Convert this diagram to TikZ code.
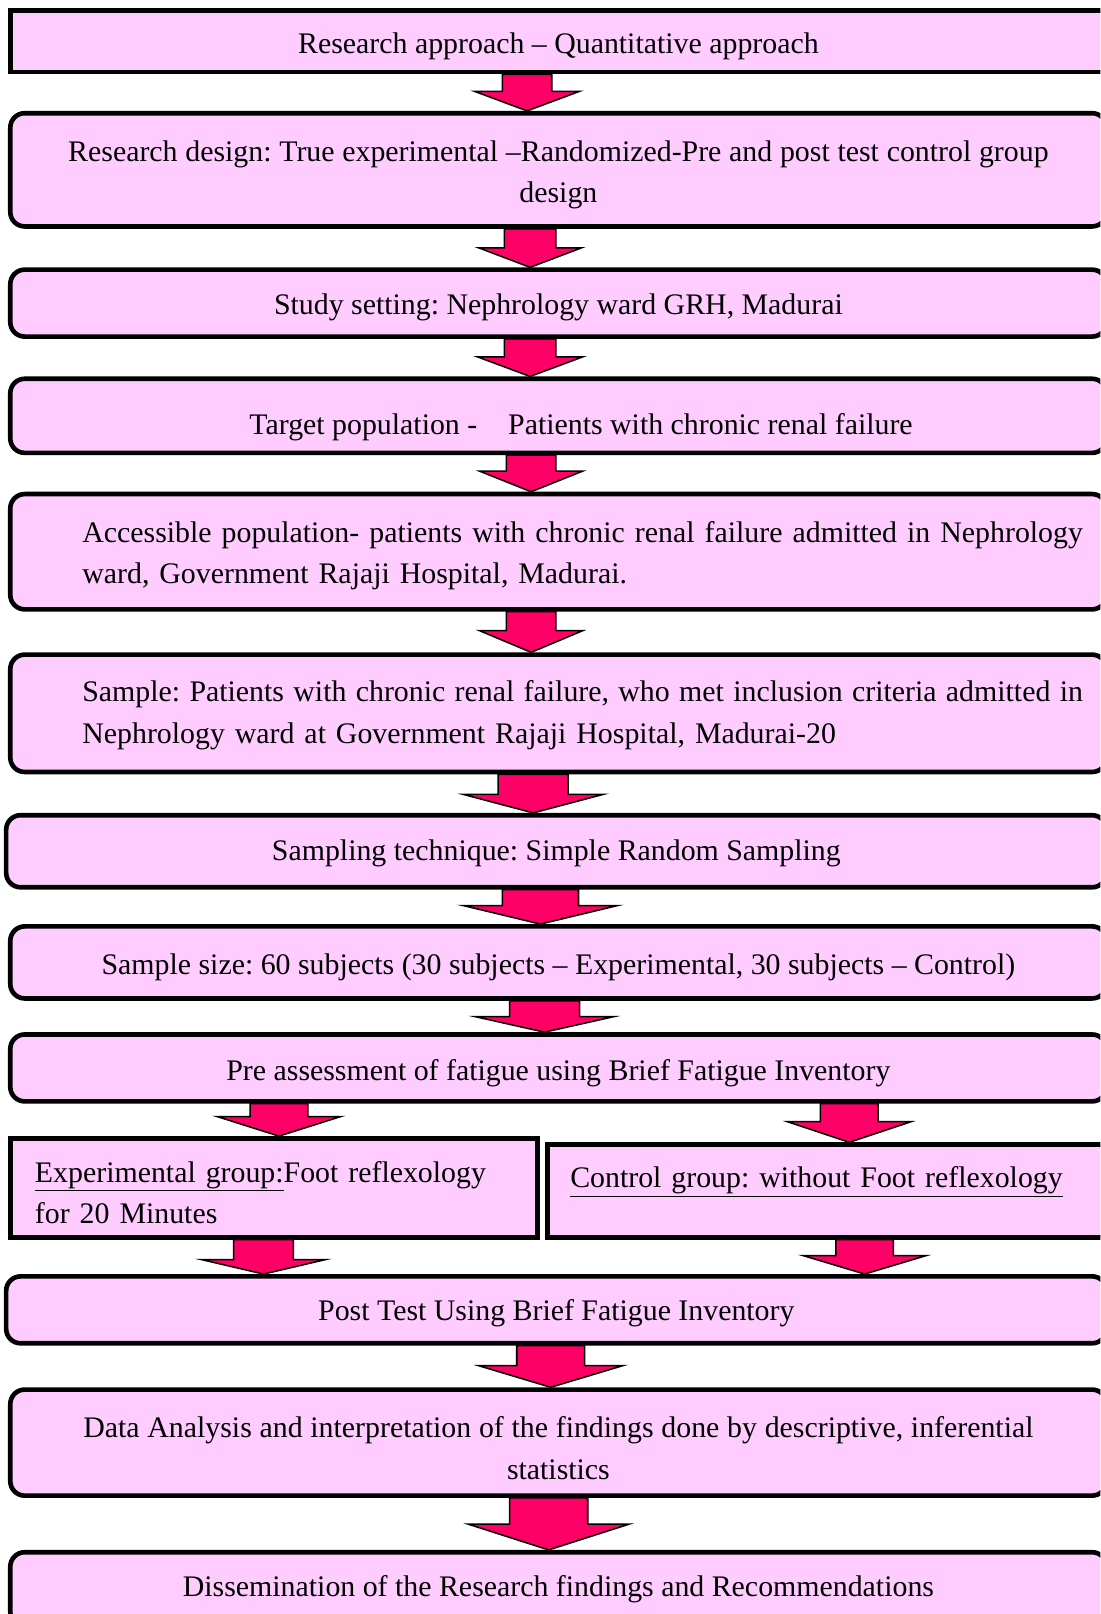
\documentclass[tikz,border=0pt]{standalone}
\usepackage{fontspec}
\setmainfont{Liberation Serif}
\usetikzlibrary{calc,backgrounds}
\definecolor{boxpink}{HTML}{FFCCFF}
\definecolor{arrowred}{HTML}{FF0066}
\frenchspacing
\tikzset{
  flowbox/.style={draw=black, line width=4.5pt, fill=boxpink, rounded corners=14pt,
    inner sep=0pt, font=\fontsize{29}{40}\selectfont\frenchspacing},
  flatbox/.style={flowbox, sharp corners},
  blockarr/.style={draw=black, fill=arrowred, line width=1.5pt, line join=miter}
}
% #1 from node, #2 to node, #3 x centre, #4 shaft half width, #5 head half width, #6 head length
\newcommand\blockarrow[6]{%
  \path[blockarr] let \p1=(#1.south), \p2=(#2.north) in
    ({(#3-#4)*1pt},\y1) -- ({(#3+#4)*1pt},\y1) -- ({(#3+#4)*1pt},{\y2+#6pt})
    -- ({(#3+#5)*1pt},{\y2+#6pt}) -- ({#3*1pt},\y2) -- ({(#3-#5)*1pt},{\y2+#6pt})
    -- ({(#3-#4)*1pt},{\y2+#6pt}) -- cycle;
}
\newcommand\fullline[1]{\hspace*{47pt}\makebox[972pt][s]{\spaceskip=5.5pt plus 4pt minus 2pt #1}}
\begin{document}
\begin{tikzpicture}[x=1pt,y=1pt]
\useasboundingbox (0,0) rectangle (1069,1568);
\clip (0,0) rectangle (1069,1568);
% boxes (y = 1568 - display y)
\node[flatbox, minimum width=1065pt, minimum height=60pt, text height=30pt, text depth=6pt]
  (b1) at (542.5,1528) {Research approach – Quantitative approach};
\node[flowbox, minimum width=1065pt, minimum height=110pt, text width=1040pt, align=center, text height=30pt, text depth=46pt]
  (b2) at (542.5,1403) {\spaceskip=6pt plus 2pt minus 1pt Research design: True experimental –Randomized-Pre and post test control group\\ design};
\node[flowbox, minimum width=1065pt, minimum height=65pt, text height=29pt, text depth=6pt]
  (b3) at (542.5,1273.5) {Study setting: Nephrology ward GRH, Madurai};
\node[flowbox, minimum width=1065pt, minimum height=72pt, text height=42pt, text depth=6pt]
  (b4) at (542.5,1164) {\hspace*{44pt}Target population -\hspace{30pt}Patients with chronic renal failure};
\node[flowbox, minimum width=1065pt, minimum height=112pt, text width=1019pt, align=left, text height=28pt, text depth=46pt]
  (b5) at (542.5,1032) {\fullline{Accessible population- patients with chronic renal failure admitted in Nephrology}\\
  \hspace*{47pt}ward, Government Rajaji Hospital, Madurai.};
\node[flowbox, minimum width=1065pt, minimum height=114pt, text width=1019pt, align=left, text height=24pt, text depth=46pt]
  (b6) at (542.5,875) {\fullline{Sample: Patients with chronic renal failure, who met inclusion criteria admitted in}\\
  \hspace*{47pt}Nephrology ward at Government Rajaji Hospital, Madurai-20};
\node[flowbox, minimum width=1069pt, minimum height=70pt, text height=24pt, text depth=6pt]
  (b7) at (540.5,741) {Sampling technique: Simple Random Sampling};
\node[flowbox, minimum width=1065pt, minimum height=70pt, text height=30pt, text depth=6pt]
  (b8) at (542.5,633) {Sample size: 60 subjects (30 subjects – Experimental, 30 subjects – Control)};
\node[flowbox, minimum width=1065pt, minimum height=65pt, text height=31pt, text depth=6pt]
  (b9) at (542.5,530.5) {Pre assessment of fatigue using Brief Fatigue Inventory};
\node[flatbox, minimum width=512pt, minimum height=96pt, text width=464pt, align=left, text height=36pt, text depth=46pt]
  (b10a) at (266,414) {\underline{Experimental group:}Foot reflexology\\ for 20 Minutes};
\node[flatbox, minimum width=548pt, minimum height=90pt, text width=504pt, align=left, text height=20pt, text depth=26pt]
  (b10b) at (806,411) {\underline{Control group: without Foot reflexology}};
\node[flowbox, minimum width=1069pt, minimum height=65pt, text height=27pt, text depth=6pt]
  (b11) at (540.5,295.5) {Post Test Using Brief Fatigue Inventory};
\node[flowbox, minimum width=1065pt, minimum height=103pt, text width=1040pt, align=center, text height=37pt, text depth=46pt]
  (b12) at (542.5,166.5) {\spaceskip=5.5pt plus 2pt minus 1pt Data Analysis and interpretation of the findings done by descriptive, inferential\\ statistics};
\node[flowbox, minimum width=1065pt, minimum height=72pt, text height=20pt, text depth=6pt]
  (b13) at (542.5,24) {Dissemination of the Research findings and Recommendations};
% block arrows
\begin{pgfonlayer}{background}
\blockarrow{b1}{b2}{512}{24}{51}{19}
\blockarrow{b2}{b3}{515}{25}{50}{19}
\blockarrow{b3}{b4}{515}{25}{51}{19}
\blockarrow{b4}{b5}{516}{24}{50}{20}
\blockarrow{b5}{b6}{516}{24}{50}{21}
\blockarrow{b6}{b7}{518}{34}{68}{18}
\blockarrow{b7}{b8}{525}{37}{75}{18}
\blockarrow{b8}{b9}{529}{34}{67}{15}
\blockarrow{b9}{b10a}{271}{28}{60}{19}
\blockarrow{b9}{b10b}{825}{28}{60}{20}
\blockarrow{b10a}{b11}{256}{29}{60}{14}
\blockarrow{b10b}{b11}{840}{28}{60}{18}
\blockarrow{b11}{b12}{535}{33}{70}{21}
\blockarrow{b12}{b13}{533}{38}{78}{25}
\end{pgfonlayer}
\end{tikzpicture}
\end{document}
